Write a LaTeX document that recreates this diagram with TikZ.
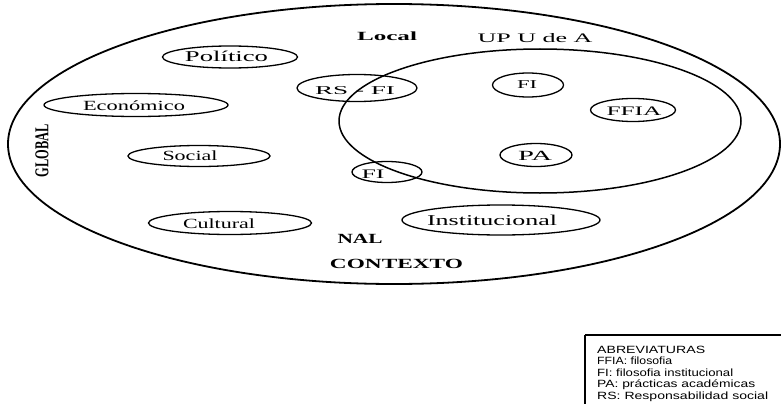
\documentclass[tikz,border=0pt]{standalone}
\usepackage{fontspec}
\setmainfont{Liberation Serif}
\newfontfamily\legfont{Liberation Sans}
\usetikzlibrary{shapes.geometric}
\newcommand\wt[3]{\resizebox{#1pt}{\height}{\fontsize{#2}{#2}\selectfont #3}}
\begin{document}
\begin{tikzpicture}[x=1pt,y=-1pt,
  oval/.style={draw, ellipse, inner sep=0pt, line width=1.3pt},
  lab/.style={anchor=base, inner sep=0pt},
  leg/.style={anchor=base west, inner sep=0pt}]
\useasboundingbox (0,0) rectangle (781,404);
% main ellipses
\node[oval, line width=1.8pt, minimum width=772pt, minimum height=280pt] (global) at (394,144) {};
\node[oval, line width=1.5pt, minimum width=402pt, minimum height=144pt] (upua) at (540,121) {};
% small ellipses
\node[oval, minimum width=135pt, minimum height=22pt] (pol) at (230,57) {};
\node[oval, minimum width=184pt, minimum height=23pt] (eco) at (136,105) {};
\node[oval, minimum width=142pt, minimum height=21pt] (soc) at (199,156) {};
\node[oval, minimum width=163pt, minimum height=23pt] (cul) at (230,223) {};
\node[oval, minimum width=120pt, minimum height=27pt] (rsfi) at (357,88) {};
\node[oval, minimum width=71pt, minimum height=24pt] (fi1) at (528,85) {};
\node[oval, minimum width=85pt, minimum height=23pt] (ffia) at (633,110) {};
\node[oval, minimum width=72pt, minimum height=23pt] (pa) at (536,155) {};
\node[oval, minimum width=198pt, minimum height=30pt] (inst) at (501,220) {};
\node[oval, minimum width=70pt, minimum height=21pt] (fi2) at (387,172) {};
% labels in ellipses
\node[lab] (tpol) at (226.5,62) {\wt{83}{15}{Político}};
\node[lab] (teco) at (134,110) {\wt{102}{14}{Económico}};
\node[lab] (tsoc) at (190,160) {\wt{55}{14}{Social}};
\node[lab] (tcul) at (219,228) {\wt{72}{14}{Cultural}};
\node[lab] (trsfi) at (355,94) {\wt{80}{12}{RS - FI}};
\node[lab] (tfi1) at (527,88) {\wt{20}{12}{FI}};
\node[lab] (tffia) at (634,115) {\wt{55}{13}{FFIA}};
\node[lab] (tpa) at (535,160) {\wt{34}{14}{PA}};
\node[lab] (tinst) at (492,225) {\wt{130}{15}{Institucional}};
\node[lab] (tfi2) at (373,178) {\wt{23}{13}{FI}};
% free labels
\node[lab] (tlocal) at (387,41) {\wt{60}{12.5}{\bfseries Local}};
\node[lab] (tupua) at (535,42) {\wt{115}{13}{UP U de A}};
\node[lab] (tnal) at (360,243) {\wt{45}{14}{\bfseries NAL}};
\node[lab] (tcont) at (396.5,268) {\wt{133}{14}{\bfseries CONTEXTO}};
\node[rotate=90, inner sep=0pt] (tglob) at (42,151) {\resizebox{53pt}{13pt}{\fontsize{12}{12}\selectfont\bfseries GLOBAL}};
% legend
\coordinate (lbl) at (585,404);
\coordinate (ltl) at (585,335);
\coordinate (ltr) at (781,335);
\draw[line width=1.5pt] (ltl) -- (lbl);
\draw[line width=1.5pt] (ltl) -- (ltr);
\node[leg] (l1) at (597,353) {\legfont\wt{108}{10.5}{ABREVIATURAS}};
\node[leg] (l2) at (597,364.5) {\legfont\wt{75}{10.5}{FFIA: filosofia}};
\node[leg] (l3) at (597,376) {\legfont\wt{136}{10.5}{FI: filosofia institucional}};
\node[leg] (l4) at (597,387.5) {\legfont\wt{158}{10.5}{PA: prácticas académicas}};
\node[leg] (l5) at (597,399) {\legfont\wt{171}{10.5}{RS: Responsabilidad social}};
\end{tikzpicture}
\end{document}
